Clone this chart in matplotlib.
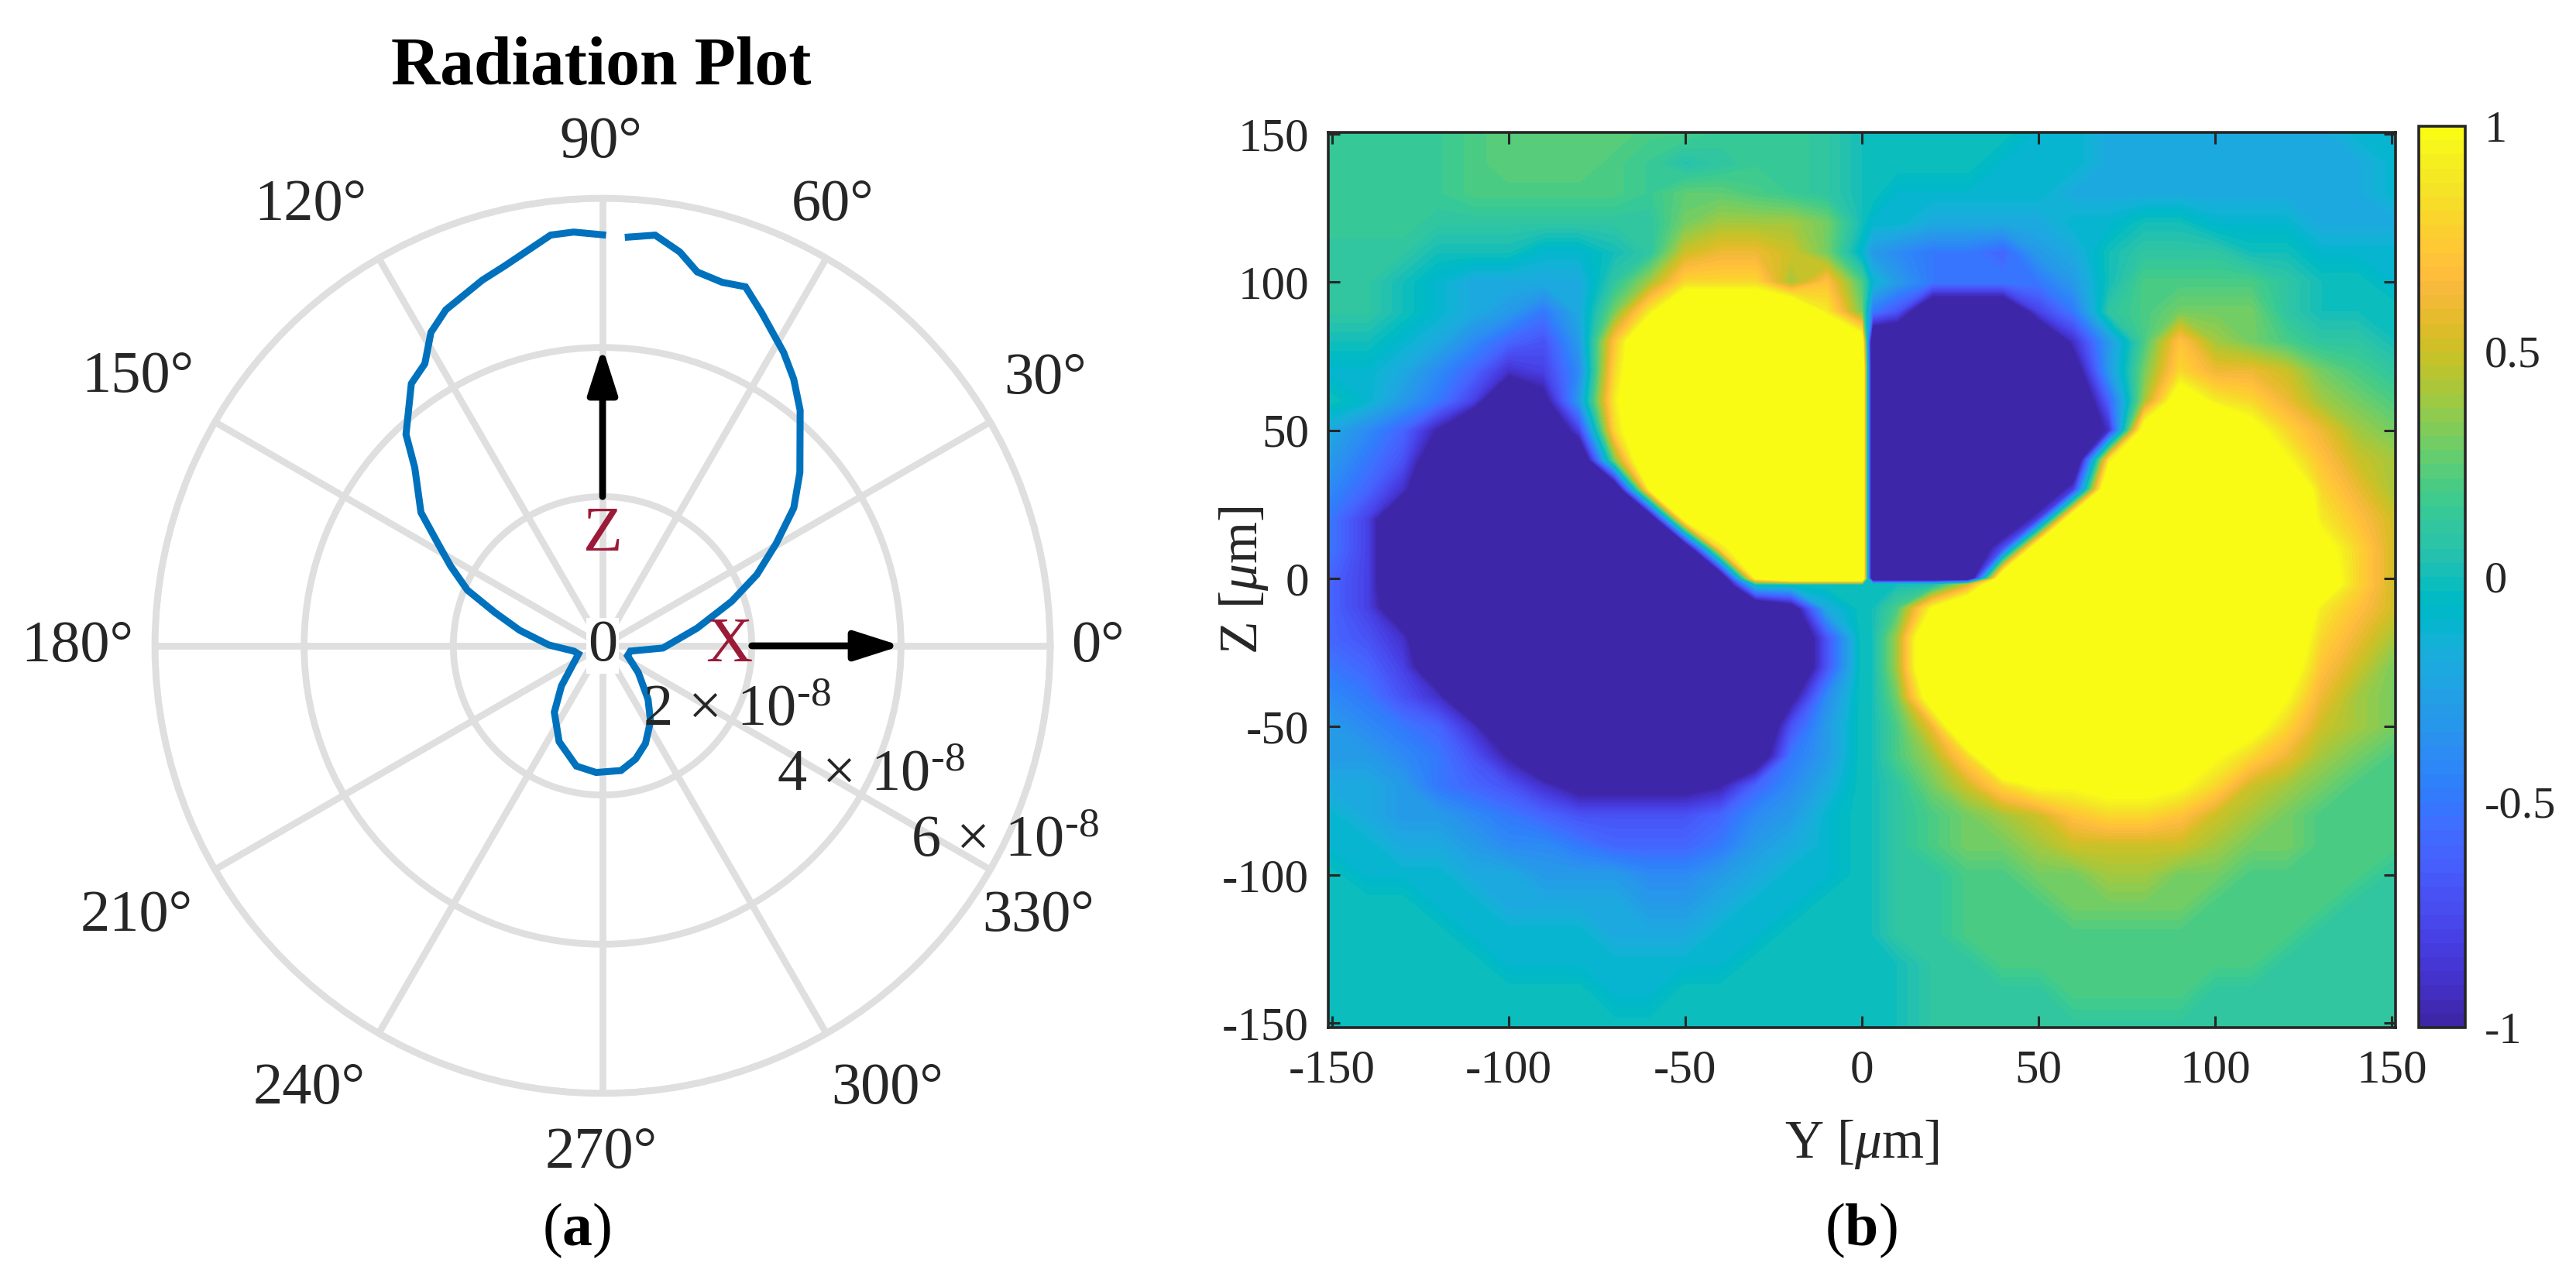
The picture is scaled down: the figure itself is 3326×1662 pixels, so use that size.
import numpy as np
import matplotlib
matplotlib.use("Agg")
import matplotlib.pyplot as plt
from matplotlib.colors import ListedColormap, Normalize
from matplotlib.cm import ScalarMappable

plt.rcParams['font.family'] = ['Liberation Serif', 'DejaVu Serif']
plt.rcParams['mathtext.fontset'] = 'custom'
plt.rcParams['mathtext.rm'] = 'Liberation Serif'
plt.rcParams['mathtext.it'] = 'Liberation Serif:italic'
plt.rcParams['mathtext.bf'] = 'Liberation Serif:bold'
plt.rcParams['axes.unicode_minus'] = False

DARK = '#262626'
W, H = 3326, 1662

# radiation pattern, angle in degrees and radius in units of 1e-8
angle_deg = [90, 94, 97.2, 104.4, 108.2, 115, 118.7, 122.2, 126.1, 132.9, 136.5, 143.7, 148.1, 152.3,
             157.6, 162.8, 169.4, 179.1, 190.6, 198.6, 224.3, 234, 245.6, 257.7, 267.1, 278.4, 286.3,
             293.7, 302.4, 310.4, 323.1, 338.4, 349.3, 357.9, 10.6, 19, 24.8, 30.5, 35.8, 41.3, 50,
             54.4, 58.3, 64.5, 68.3, 71.8, 75.8, 78.9, 82.7, 86.4]
radius_e8 = [5.51, 5.56, 5.55, 5.26, 5.16, 4.97, 4.79, 4.47, 4.35, 3.87, 3.47, 3.02, 2.60, 2.30,
             1.96, 1.51, 1.13, 0.72, 0.39, 0.34, 0.77, 1.10, 1.41, 1.65, 1.70, 1.69, 1.58,
             1.43, 1.20, 0.94, 0.60, 0.36, 0.38, 0.81, 1.29, 1.83, 2.28, 2.70, 3.16, 3.52, 4.12,
             4.40, 4.62, 4.95, 5.18, 5.13, 5.17, 5.38, 5.55, 5.49]

angle_ticks = [0, 30, 60, 90, 120, 150, 180, 210, 240, 270, 300, 330]
ring_ticks = [2, 4, 6]

# field map, values in tenths, +-15 stands for saturated regions of the colour scale
y_um = [-151, -140, -130, -120, -110, -100, -90, -80, -70, -60, -50, -40, -30, -20, -10, 0,
        3, 10, 20, 30, 40, 50, 60, 70, 80, 90, 100, 110, 120, 130, 140, 151]
z_um = [151, 140, 130, 120, 110, 100, 90, 80, 70, 60, 50, 40, 30, 20, 10, 0, -2,
        -10, -20, -30, -40, -50, -60, -70, -80, -90, -100, -110, -120, -130, -140, -152]
field = [
    [1.5,1.5,1.5,1.5,2,2.5,2.5,2.5, 2.5,2,2,1.5,1.5,1.5,1,0, 0,0,0,0,0,-1,-1,-2, -2,-2,-2,-2,-2,-2,-1,-1],
    [1.5,1.5,1.5,1.5,2,2.5,2.5,2.5, 2,1.5,0.5,1,1.5,1.5,1,0, 0,0,0,0,-1,-1,-1,-2, -2,-2,-2,-2,-2,-2,-2,-1],
    [1.5,1.5,1.5,1.5,2,2,2,2, 2,1.5,2.5,2.5,2,1.5,1,0, 0,-1,-1,-1,-1,-1,-2,-2, -2,-2,-2,-2,-2,-2,-2,-1],
    [1.5,1.5,1.5,1,1,1,1,1, 1,1,3,4,4,4,3,0, -1,-1,-2,-2,-2,-2,-1,-1, 0,0,-1,-1,-1,-2,-2,-2],
    [1,1,1,0,0,0,-1,-1, 0,1,5,6,6,5,3,-1, -3,-4,-5,-5,-6,-3,-2,0, 1,1,1,0,0,-1,-1,-1],
    [1,1,0,-1,-2,-2,-2,-2, 1,4,8,8,8,4,7,2, -1,-3,-5,-5,-5,-5,-3,0, 2,2,2,2,1,0,0,-1],
    [1,1,0,-1,-2,-3,-5,-2, 3,9,15,15,15,15,9,3, -5,-7,-15,-15,-15,-8,-5,1, 2,3,3,3,1,0,0,0],
    [0,0,-1,-2,-4,-6,-7,-3, 7,15,15,15,15,15,15,12, -15,-15,-15,-15,-15,-15,-9,-3, 2,7,4,3,2,1,1,0],
    [-1,-1,-2,-4,-6,-9,-8,-4, 8,15,15,15,15,15,15,15, -15,-15,-15,-15,-15,-15,-12,-3, 3,8,6,6,5,3,2,1],
    [0,-1,-3,-5,-8,-15,-11,-3, 9,15,15,15,15,15,15,15, -15,-15,-15,-15,-15,-15,-15,-6, 4,12,9,8,6,4,3,2],
    [-2,-4,-6,-10,-15,-15,-15,-8, 8,15,15,15,15,15,15,15, -15,-15,-15,-15,-15,-15,-15,-9, 12,15,15,11,8,6,4,3],
    [-3,-5,-7,-13,-15,-15,-15,-15, 3,15,15,15,15,15,15,15, -15,-15,-15,-15,-15,-15,-15,9, 15,15,15,15,10,7,5,4],
    [-4,-6,-9,-15,-15,-15,-15,-15, -15,10,15,15,15,15,15,15, -15,-15,-15,-15,-15,-15,-8,15, 15,15,15,15,15,8,6,4],
    [-5,-8,-15,-15,-15,-15,-15,-15, -15,-15,11,15,15,15,15,15, -15,-15,-15,-15,-15,-8,15,15, 15,15,15,15,15,9,7,5],
    [-5,-8,-15,-15,-15,-15,-15,-15, -15,-15,-15,8,15,15,15,15, -15,-15,-15,-15,-7,15,15,15, 15,15,15,15,15,11,8,5],
    [-6,-8,-15,-15,-15,-15,-15,-15, -15,-15,-15,-15,10,15,15,15, -15,-15,-15,-15,15,15,15,15, 15,15,15,15,15,12,8,5],
    [-6,-8,-15,-15,-15,-15,-15,-15, -15,-15,-15,-15,0,0,0,0, 0,0,0,5,15,15,15,15, 15,15,15,15,15,12,8,5],
    [-6,-8,-13,-15,-15,-15,-15,-15, -15,-15,-15,-15,-15,-12,-2,0, 0,2,10,15,15,15,15,15, 15,15,15,15,15,9,7,5],
    [-6,-7,-9,-15,-15,-15,-15,-15, -15,-15,-15,-15,-15,-15,-7,0, 0,4,15,15,15,15,15,15, 15,15,15,15,13,8,6,4],
    [-5,-6,-8,-13,-15,-15,-15,-15, -15,-15,-15,-15,-15,-15,-7,0, 0,4,15,15,15,15,15,15, 15,15,15,15,12,7,5,3],
    [-4,-5,-7,-9,-15,-15,-15,-15, -15,-15,-15,-15,-15,-11,-4,0, 0,3,12,15,15,15,15,15, 15,15,15,15,10,6,4,3],
    [-3,-4,-5,-6,-9,-15,-15,-15, -15,-15,-15,-15,-15,-7,-3,0, 0,2,6,15,15,15,15,15, 15,15,15,11,8,5,4,3],
    [-3,-3,-4,-5,-7,-10,-15,-15, -15,-15,-15,-15,-13,-5,-3,0, 0,2,4,8,15,15,15,15, 15,15,10,8,6,4,3,2],
    [-2,-2,-3,-5,-6,-7,-9,-11, -11,-11,-11,-10,-6,-4,-2,0, 0,1,3,5,8,10,10,11, 11,10,8,5,4,3,2,2],
    [-1,-2,-3,-3,-4,-5,-6,-7, -7,-7,-7,-6,-4,-3,-1,0, 0,1,2,3,4,5,7,8, 8,7,5,4,3,2,2,2],
    [-1,-1,-2,-2,-3,-4,-4,-5, -6,-6,-6,-5,-3,-2,-1,0, 0,1,2,3,3,4,5,5, 5,5,4,3,3,2,2,2],
    [0,-1,-1,-1,-2,-2,-3,-3, -3,-4,-4,-3,-2,-1,-1,0, 0,1,1,2,2,3,3,4, 4,3,3,2,2,2,2,1],
    [0,0,0,-1,-1,-2,-2,-2, -2,-3,-3,-2,-1,-1,0,0, 0,1,1,2,2,2,3,3, 3,3,2,2,2,2,1,1],
    [0,0,0,0,-1,-1,-1,-1, -2,-2,-2,-1,-1,0,0,0, 0,1,1,2,2,2,2,2, 2,2,2,2,2,1,1,1],
    [0,0,0,0,0,-1,-1,-1, -1,-1,-1,-1,0,0,0,0, 0,0,1,1,2,2,2,2, 2,2,2,2,1,1,1,1],
    [0,0,0,0,0,0,0,0, -1,-1,0,0,0,0,0,0, 0,0,1,1,1,1,2,2, 2,2,1,1,1,1,1,1],
    [0,0,0,0,0,0,0,0, 0,0,0,0,0,0,0,0, 0,0,1,1,1,1,1,1, 1,1,1,1,1,1,1,1],
]
map_ticks = [-150, -100, -50, 0, 50, 100, 150]
bar_ticks = [-1, -0.5, 0, 0.5, 1]
bar_labels = ['-1', '-0.5', '0', '0.5', '1']

# old matlab parula table
parula = ListedColormap([
    (.2422,.1504,.6603),(.2504,.1650,.7076),(.2578,.1818,.7511),(.2647,.1978,.7952),(.2706,.2147,.8364),
    (.2751,.2342,.8710),(.2783,.2559,.8991),(.2803,.2782,.9221),(.2813,.3006,.9414),(.2810,.3228,.9579),
    (.2795,.3447,.9717),(.2760,.3667,.9829),(.2699,.3892,.9906),(.2602,.4123,.9952),(.2440,.4358,.9988),
    (.2206,.4603,.9973),(.1963,.4847,.9892),(.1834,.5074,.9798),(.1786,.5289,.9682),(.1764,.5499,.9520),
    (.1687,.5703,.9359),(.1540,.5902,.9218),(.1460,.6091,.9079),(.1380,.6276,.8973),(.1248,.6459,.8883),
    (.1113,.6635,.8763),(.0952,.6798,.8598),(.0689,.6948,.8394),(.0297,.7082,.8163),(.0036,.7203,.7917),
    (.0067,.7312,.7660),(.0433,.7411,.7394),(.0964,.7500,.7120),(.1408,.7584,.6842),(.1717,.7670,.6554),
    (.1938,.7758,.6251),(.2161,.7843,.5923),(.2470,.7918,.5567),(.2906,.7973,.5188),(.3406,.8008,.4789),
    (.3909,.8029,.4354),(.4456,.8024,.3909),(.5044,.7993,.3480),(.5616,.7942,.3045),(.6174,.7876,.2612),
    (.6720,.7793,.2227),(.7242,.7698,.1910),(.7738,.7598,.1646),(.8203,.7498,.1535),(.8634,.7406,.1596),
    (.9035,.7330,.1774),(.9393,.7288,.2100),(.9728,.7298,.2394),(.9956,.7434,.2371),(.9970,.7659,.2199),
    (.9952,.7893,.2028),(.9892,.8136,.1885),(.9786,.8386,.1766),(.9676,.8639,.1643),(.9610,.8890,.1537),
    (.9597,.9135,.1423),(.9628,.9373,.1265),(.9691,.9606,.1064),(.9769,.9839,.0805)])
parula.set_under(parula(0))
parula.set_over(parula(63))

# where the angle labels sit on the 1568 wide view of the page, matlab does not centre them on the spokes
label_spots = {0: (668, 394), 30: (636, 231), 60: (507, 125), 90: (366, 87), 120: (189, 125), 150: (84, 230),
               180: (47, 394), 210: (83, 558), 240: (188, 663), 270: (366, 702), 300: (540, 663), 330: (632, 558)}
SCALE = W / 1568


def box(left, top, right, bottom):
    # pixel box of the reference to figure fractions
    return [left / W, 1 - bottom / H, (right - left) / W, (bottom - top) / H]


fig = plt.figure(figsize=(W / 100, H / 100), dpi=100)

# (a) radiation plot
ax = fig.add_axes(box(200, 256, 1356, 1412), projection='polar')
ax.set_ylim(0, 6)
ax.set_xticks(np.radians(angle_ticks))
ax.set_yticks(ring_ticks)
ax.set_xticklabels([])
ax.set_yticklabels([])
ax.grid(True, color='#dfdfdf', linewidth=6.3)
ax.spines['polar'].set_color('#dfdfdf')
ax.spines['polar'].set_linewidth(6.3)
ax.tick_params(length=0)

theta = np.radians(angle_deg)
ax.plot(theta, radius_e8, color='#0072bd', linewidth=6.5, solid_joinstyle='miter', zorder=5)

for a in angle_ticks:
    px, py = label_spots[a]
    fig.text(px * SCALE / W, 1 - py * SCALE / H, '%d\u00b0' % a, fontsize=55, color=DARK, ha='center', va='center')
ax.text(0, 0, '0', fontsize=55, color=DARK, ha='center', va='center', zorder=4,
        bbox=dict(facecolor='white', edgecolor='none', pad=1))
for r in ring_ticks:
    ax.text(np.radians(-26), r, '%d$\\,\\times\\,$10$^{\\mathrm{\u2010}8}$' % r, fontsize=55, color=DARK,
            ha='center', va='center', zorder=6)

for start, end, t in [(2, 4, 0), (2, 4, 90)]:
    ax.annotate('', xy=(np.radians(t), end), xytext=(np.radians(t), start), zorder=6,
                arrowprops=dict(arrowstyle='-|>,head_length=0.5,head_width=0.16', mutation_scale=72,
                                color='black', linewidth=6.3, shrinkA=0, shrinkB=0))
ax.text(np.radians(90), 1.48, 'Z', fontsize=60, color='#9b1a38', ha='center', va='center', zorder=6)
ax.text(0, 1.69, 'X', fontsize=60, color='#9b1a38', ha='center', va='center', zorder=6)
fig.text(776 / W, 1 - 88 / H, 'Radiation Plot', fontsize=63, fontweight='bold', ha='center', va='center',
         color='black')

# (b) field map
ax2 = fig.add_axes(box(1715, 171, 3093, 1327))
levels = np.linspace(-1, 1, 129)
cs = ax2.contourf(y_um, z_um, np.array(field) / 10, levels=levels, cmap=parula, extend='both', antialiased=False)
ax2.set_xlim(-151, 151)
ax2.set_ylim(-151.5, 150.5)
ax2.set_xticks(map_ticks)
ax2.set_yticks(map_ticks)
ax2.tick_params(direction='in', top=True, right=True, length=11, width=2.2, color=DARK, labelcolor=DARK,
                labelsize=44)
ax2.tick_params(axis='x', pad=20)
ax2.tick_params(axis='y', pad=18)
for s in ax2.spines.values():
    s.set_linewidth(2.6)
    s.set_color(DARK)
ax2.set_xlabel('Y [$\\mu$m]', fontsize=50, color=DARK, va='center')
ax2.set_ylabel('Z [$\\mu$m]', fontsize=50, color=DARK, va='center')
ax2.xaxis.set_label_coords(0.5, -0.131)
ax2.yaxis.set_label_coords(-0.0794, 0.5)

cax = fig.add_axes(box(3123, 163, 3183, 1327))
cb = fig.colorbar(ScalarMappable(Normalize(-1, 1), parula), cax=cax)
cb.set_ticks(bar_ticks)
cb.set_ticklabels(bar_labels)
cb.ax.tick_params(length=0, labelsize=42, labelcolor=DARK, pad=18)
cb.outline.set_linewidth(2.6)
cb.outline.set_edgecolor(DARK)

fig.text(745 / W, 1 - 1589 / H, '($\\mathbf{a}$)', fontsize=56, ha='center', va='center', color='black')
fig.text(2403 / W, 1 - 1589 / H, '($\\mathbf{b}$)', fontsize=56, ha='center', va='center', color='black')

fig.savefig('out.png', dpi=100)
